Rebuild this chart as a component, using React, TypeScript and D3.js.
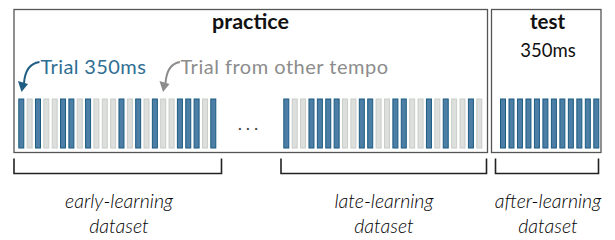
import React from "react";
import * as d3 from "d3";

// 1 = trial at 350ms, 0 = trial from other tempo
const earlyTrials = [1,0,1,0,0,1,1,0,1,0,0,0,1,0,1,0,1,0,0,1,1,1,0,1];
const lateTrials = [1,0,0,1,1,1,1,0,0,1,1,0,0,1,1,0,0,1,0,1,0,0,1,0];
const testTrials = [1,1,1,1,1,1,1,1,1,1,1,1];
const phaseLabels = ["practice", "test"];
const testTempoLabel = "350ms";
const legendLabels = ["Trial 350ms", "Trial from other tempo"];
const datasetLabels = [["early-learning", "dataset"], ["late-learning", "dataset"], ["after-learning", "dataset"]];

const W = 615, H = 240;
const BLUE_FILL = "#4c7ea6";
const BLUE_STROKE = "#1b5b80";
const GRAY_FILL = "#dcdfdc";
const GRAY_STROKE = "#c9ccc9";
const FONT = "Lato, 'Open Sans', sans-serif";

const barTop = 98.5, barBottom = 148.5, barW = 6;

function Bars({ trials, x0, x1 }: { trials: number[]; x0: number; x1: number }) {
  const x = d3.scaleLinear().domain([0, trials.length - 1]).range([x0, x1]);
  return (
    <g>
      {trials.map((t, i) => (
        <rect
          key={i}
          x={x(i) - barW / 2 + 0.5}
          y={barTop + 0.5}
          width={barW - 1}
          height={barBottom - barTop - 1}
          fill={t ? BLUE_FILL : GRAY_FILL}
          stroke={t ? BLUE_STROKE : GRAY_STROKE}
          strokeWidth={1}
        />
      ))}
    </g>
  );
}

function Arrow({ sx, sy, tx, ty, color }: { sx: number; sy: number; tx: number; ty: number; color: string }) {
  const path = d3.path();
  path.moveTo(sx, sy);
  path.quadraticCurveTo(tx + 4, sy + 2, tx + 2.5, ty - 9);
  return (
    <g>
      <path d={path.toString()} fill="none" stroke={color} strokeWidth={2} />
      <path d={`M${tx},${ty} L${tx - 3.5},${ty - 11} L${tx + 6.5},${ty - 8} Z`} fill={color} />
    </g>
  );
}

function Bracket({ x0, x1 }: { x0: number; x1: number }) {
  const yTop = 158.5, yBot = 173.5;
  return (
    <path
      d={`M${x0},${yTop} L${x0},${yBot} L${x1},${yBot} L${x1},${yTop}`}
      fill="none"
      stroke="#222"
      strokeWidth={1.6}
    />
  );
}

export default function App() {
  const datasetX = [119, 384, 548];
  const brackets = [[14, 221.5], [281, 486.5], [495.5, 598.5]];
  return (
    <svg width={W} height={H} style={{ position: "absolute", left: 0, top: 0 }} fontFamily={FONT}>
      <rect x={0} y={0} width={W} height={H} fill="#fff" />
      {/* boxes */}
      <rect x={14} y={9.5} width={473.5} height={143} fill="none" stroke="#555" strokeWidth={1.3} />
      <rect x={491.5} y={9.5} width={109.5} height={143} fill="none" stroke="#555" strokeWidth={1.3} />

      <text x={250.5} y={28.5} textAnchor="middle" fontWeight="bold" fontSize={21.5} fill="#111">{phaseLabels[0]}</text>
      <text x={547.5} y={28.5} textAnchor="middle" fontWeight="bold" fontSize={20.5} fill="#111">{phaseLabels[1]}</text>
      <text x={548} y={56.5} textAnchor="middle" fontSize={18.5} fill="#111">{testTempoLabel}</text>

      <text x={40.5} y={73.5} fontSize={20} letterSpacing={0.4} fill="#2f6e93">{legendLabels[0]}</text>
      <text x={180.5} y={73.5} fontSize={20} letterSpacing={0.5} fill="#8c8c8c">{legendLabels[1]}</text>
      <Arrow sx={39.5} sy={62} tx={21.5} ty={92} color="#1f5e82" />
      <Arrow sx={180} sy={62} tx={163} ty={92} color="#8c8c8c" />

      <Bars trials={earlyTrials} x0={21.3} x1={213.3} />
      <Bars trials={lateTrials} x0={286.3} x1={479.3} />
      <Bars trials={testTrials} x0={503} x1={596.3} />

      <text x={250} y={130} textAnchor="middle" fontSize={18} letterSpacing={4} fill="#444">...</text>

      {brackets.map((b, i) => <Bracket key={i} x0={b[0]} x1={b[1]} />)}
      {datasetLabels.map((lines, i) => (
        <text key={i} textAnchor="middle" fontStyle="italic" fontWeight={300} fontSize={19.5} fill="#000">
          <tspan x={datasetX[i]} y={208}>{lines[0]}</tspan>
          <tspan x={datasetX[i]} y={232.5}>{lines[1]}</tspan>
        </text>
      ))}
    </svg>
  );
}
